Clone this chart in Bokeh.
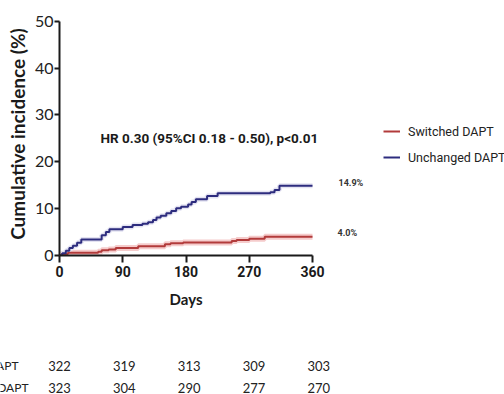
from bokeh.plotting import figure
from bokeh.layouts import column
from bokeh.models import Range1d, Label, Legend, LegendItem, FixedTicker, ColumnDataSource
from bokeh.core.properties import value
from bokeh.embed import file_html
from bokeh.resources import INLINE

# ---------------- data ----------------
switched_days = [0, 3, 12, 55, 60, 70, 80, 112, 150, 158, 176, 245, 252, 270, 292, 360]
switched_pct = [0, 0.3, 0.6, 0.8, 1.1, 1.3, 1.6, 2.0, 2.4, 2.6, 2.8, 3.1, 3.3, 3.6, 4.0, 4.0]

unchanged_days = [0, 4, 9, 14, 19, 25, 31, 60, 66, 71, 90, 104, 118, 126, 133, 138, 144,
                  152, 159, 166, 173, 183, 188, 194, 210, 225, 300, 306, 313, 360]
unchanged_pct = [0, 0.5, 1.0, 1.6, 2.1, 2.7, 3.4, 4.3, 5.0, 5.6, 6.1, 6.5, 6.8, 7.1, 7.6, 8.1, 8.5,
                 9.0, 9.5, 10.1, 10.4, 10.9, 11.4, 12.0, 12.7, 13.3, 13.5, 14.0, 14.9, 14.9]

x_ticks = [0, 90, 180, 270, 360]
y_ticks = [0, 10, 20, 30, 40, 50]
risk_days = [0, 90, 180, 270, 360]
risk_switched = [322, 319, 313, 309, 303]
risk_unchanged = [323, 304, 290, 277, 270]
series_names = ["Switched DAPT", "Unchanged DAPT"]
final_labels = ["4.0%", "14.9%"]
hr_text = "HR 0.30 (95%CI 0.18 - 0.50), p<0.01"

# ---------------- layout ----------------
W = 504
TOP_H, BOT_H = 288, 106
LEFT, TOP = 59, 12
AXIS_Y = 255                      # pixel row of the x axis
frame_w = W - LEFT
frame_h = AXIS_Y - TOP
px_per_day = 253 / 360
px_per_pct = 234.3 / 50


def dx(px):
    return (px - LEFT) / px_per_day


def dy(py):
    return (AXIS_Y - py) / px_per_pct


RED = "#b23b3b"
BLUE = "#2d2c7e"
COND = "Roboto"

p = figure(width=W, height=TOP_H, output_backend="svg", toolbar_location=None,
           x_range=Range1d(0, frame_w / px_per_day), y_range=Range1d(0, frame_h / px_per_pct))
p.frame_align = False
p.min_border = 0
p.min_border_left = LEFT
p.min_border_bottom = TOP_H - AXIS_Y
p.min_border_right = 0
p.min_border_top = TOP
p.outline_line_color = None
p.background_fill_color = "white"
p.border_fill_color = "white"
p.xgrid.visible = False
p.ygrid.visible = False

# halos
p.step(switched_days, switched_pct, mode="after", line_color="#f5cccc", line_width=6)
p.step(unchanged_days, unchanged_pct, mode="after", line_color="#e4e3f2", line_width=5)
r_red = p.step(switched_days, switched_pct, mode="after", line_color=RED, line_width=2)
r_blue = p.step(unchanged_days, unchanged_pct, mode="after", line_color=BLUE, line_width=2)

# axes
xa = p.xaxis[0]
xa.ticker = FixedTicker(ticks=x_ticks)
xa.bounds = (0, 360)
xa.axis_line_width = 2
xa.axis_line_color = "#1a1a1a"
xa.major_tick_line_width = 2
xa.major_tick_line_color = "#1a1a1a"
xa.major_tick_out = 7
xa.major_tick_in = 0
xa.minor_tick_line_color = None
xa.major_label_standoff = 3
xa.major_label_text_font = COND
xa.major_label_text_font_style = "bold"
xa.major_label_text_font_size = "14px"
xa.major_label_text_color = "#1a1a1a"

ya = p.yaxis[0]
ya.ticker = FixedTicker(ticks=y_ticks)
ya.bounds = (0, 50)
ya.axis_line_width = 2
ya.axis_line_color = "#1a1a1a"
ya.major_tick_line_width = 2
ya.major_tick_line_color = "#1a1a1a"
ya.major_tick_out = 5
ya.major_tick_in = 0
ya.minor_tick_line_color = None
ya.major_label_standoff = 1
ya.major_label_text_font = "Lato"
ya.major_label_text_font_size = "16px"
ya.major_label_text_color = "#222222"
ya.axis_label = "Cumulative incidence (%)"
ya.axis_label_text_font = "Lato"
ya.axis_label_text_font_style = "bold"
ya.axis_label_text_font_size = "19px"
ya.axis_label_text_color = "#1a1a1a"
ya.axis_label_standoff = 3

# HR annotation
p.add_layout(Label(x=dx(100), y=dy(137), text=hr_text, text_align="left", text_baseline="middle",
                   text_font=COND, text_font_style="bold", text_font_size="13.5px",
                   text_color="#1a1a1a"))

# final value labels
p.add_layout(Label(x=dx(337), y=switched_pct[-1] + 0.9, text=final_labels[0], text_align="left",
                   text_baseline="middle", text_font=COND, text_font_style="bold",
                   text_font_size="9px", text_color="#333333"))
p.add_layout(Label(x=dx(338), y=unchanged_pct[-1] + 0.5, text=final_labels[1], text_align="left",
                   text_baseline="middle", text_font=COND, text_font_style="bold",
                   text_font_size="9px", text_color="#333333"))

# legend
legend = Legend(items=[LegendItem(label=series_names[0], renderers=[r_red]),
                       LegendItem(label=series_names[1], renderers=[r_blue])],
                location=(383 - LEFT, AXIS_Y - 167), orientation="vertical", padding=0, margin=0,
                spacing=6, glyph_width=17, glyph_height=20, label_height=20, label_standoff=8,
                label_text_font=COND, label_text_font_size="12.5px", label_text_color="#222222",
                border_line_color=None, background_fill_alpha=0)
p.add_layout(legend)

# ---------------- bottom panel: x title + number at risk ----------------
q = figure(width=W, height=BOT_H, output_backend="svg", toolbar_location=None,
           x_axis_location=None, y_axis_location=None,
           x_range=Range1d(-LEFT / px_per_day, (W - LEFT) / px_per_day),
           y_range=Range1d(BOT_H, 0))
q.frame_align = False
q.min_border = 0
q.min_border_left = 0
q.min_border_right = 0
q.min_border_top = 0
q.min_border_bottom = 0
q.outline_line_color = None
q.grid.visible = False
q.background_fill_color = "white"
q.border_fill_color = "white"

q.text(x=[180], y=[298 - TOP_H], text=["Days"], text_align="center", text_baseline="middle",
       text_font=value("Lato"), text_font_style="bold", text_font_size="15px",
       text_color="#1a1a1a")

row_y = [365 - TOP_H, 387 - TOP_H]
row_end = [dx(18), dx(28)]
for name, counts, yy, xe in zip(series_names, [risk_switched, risk_unchanged], row_y, row_end):
    q.text(x=[xe], y=[yy], text=[name], text_align="right", text_baseline="middle",
           text_font=value("Lato"), text_font_size="12px", text_color="#222222")
    src = ColumnDataSource(dict(x=[t * 1.025 for t in risk_days], y=[yy] * len(counts),
                                t=[str(n) for n in counts]))
    q.text(x="x", y="y", text="t", source=src, text_align="center", text_baseline="middle",
           text_font=value("Lato"), text_font_size="13px", text_color="#222222")

layout = column(p, q, spacing=0)
open("out.html", "w").write(file_html(layout, INLINE))
